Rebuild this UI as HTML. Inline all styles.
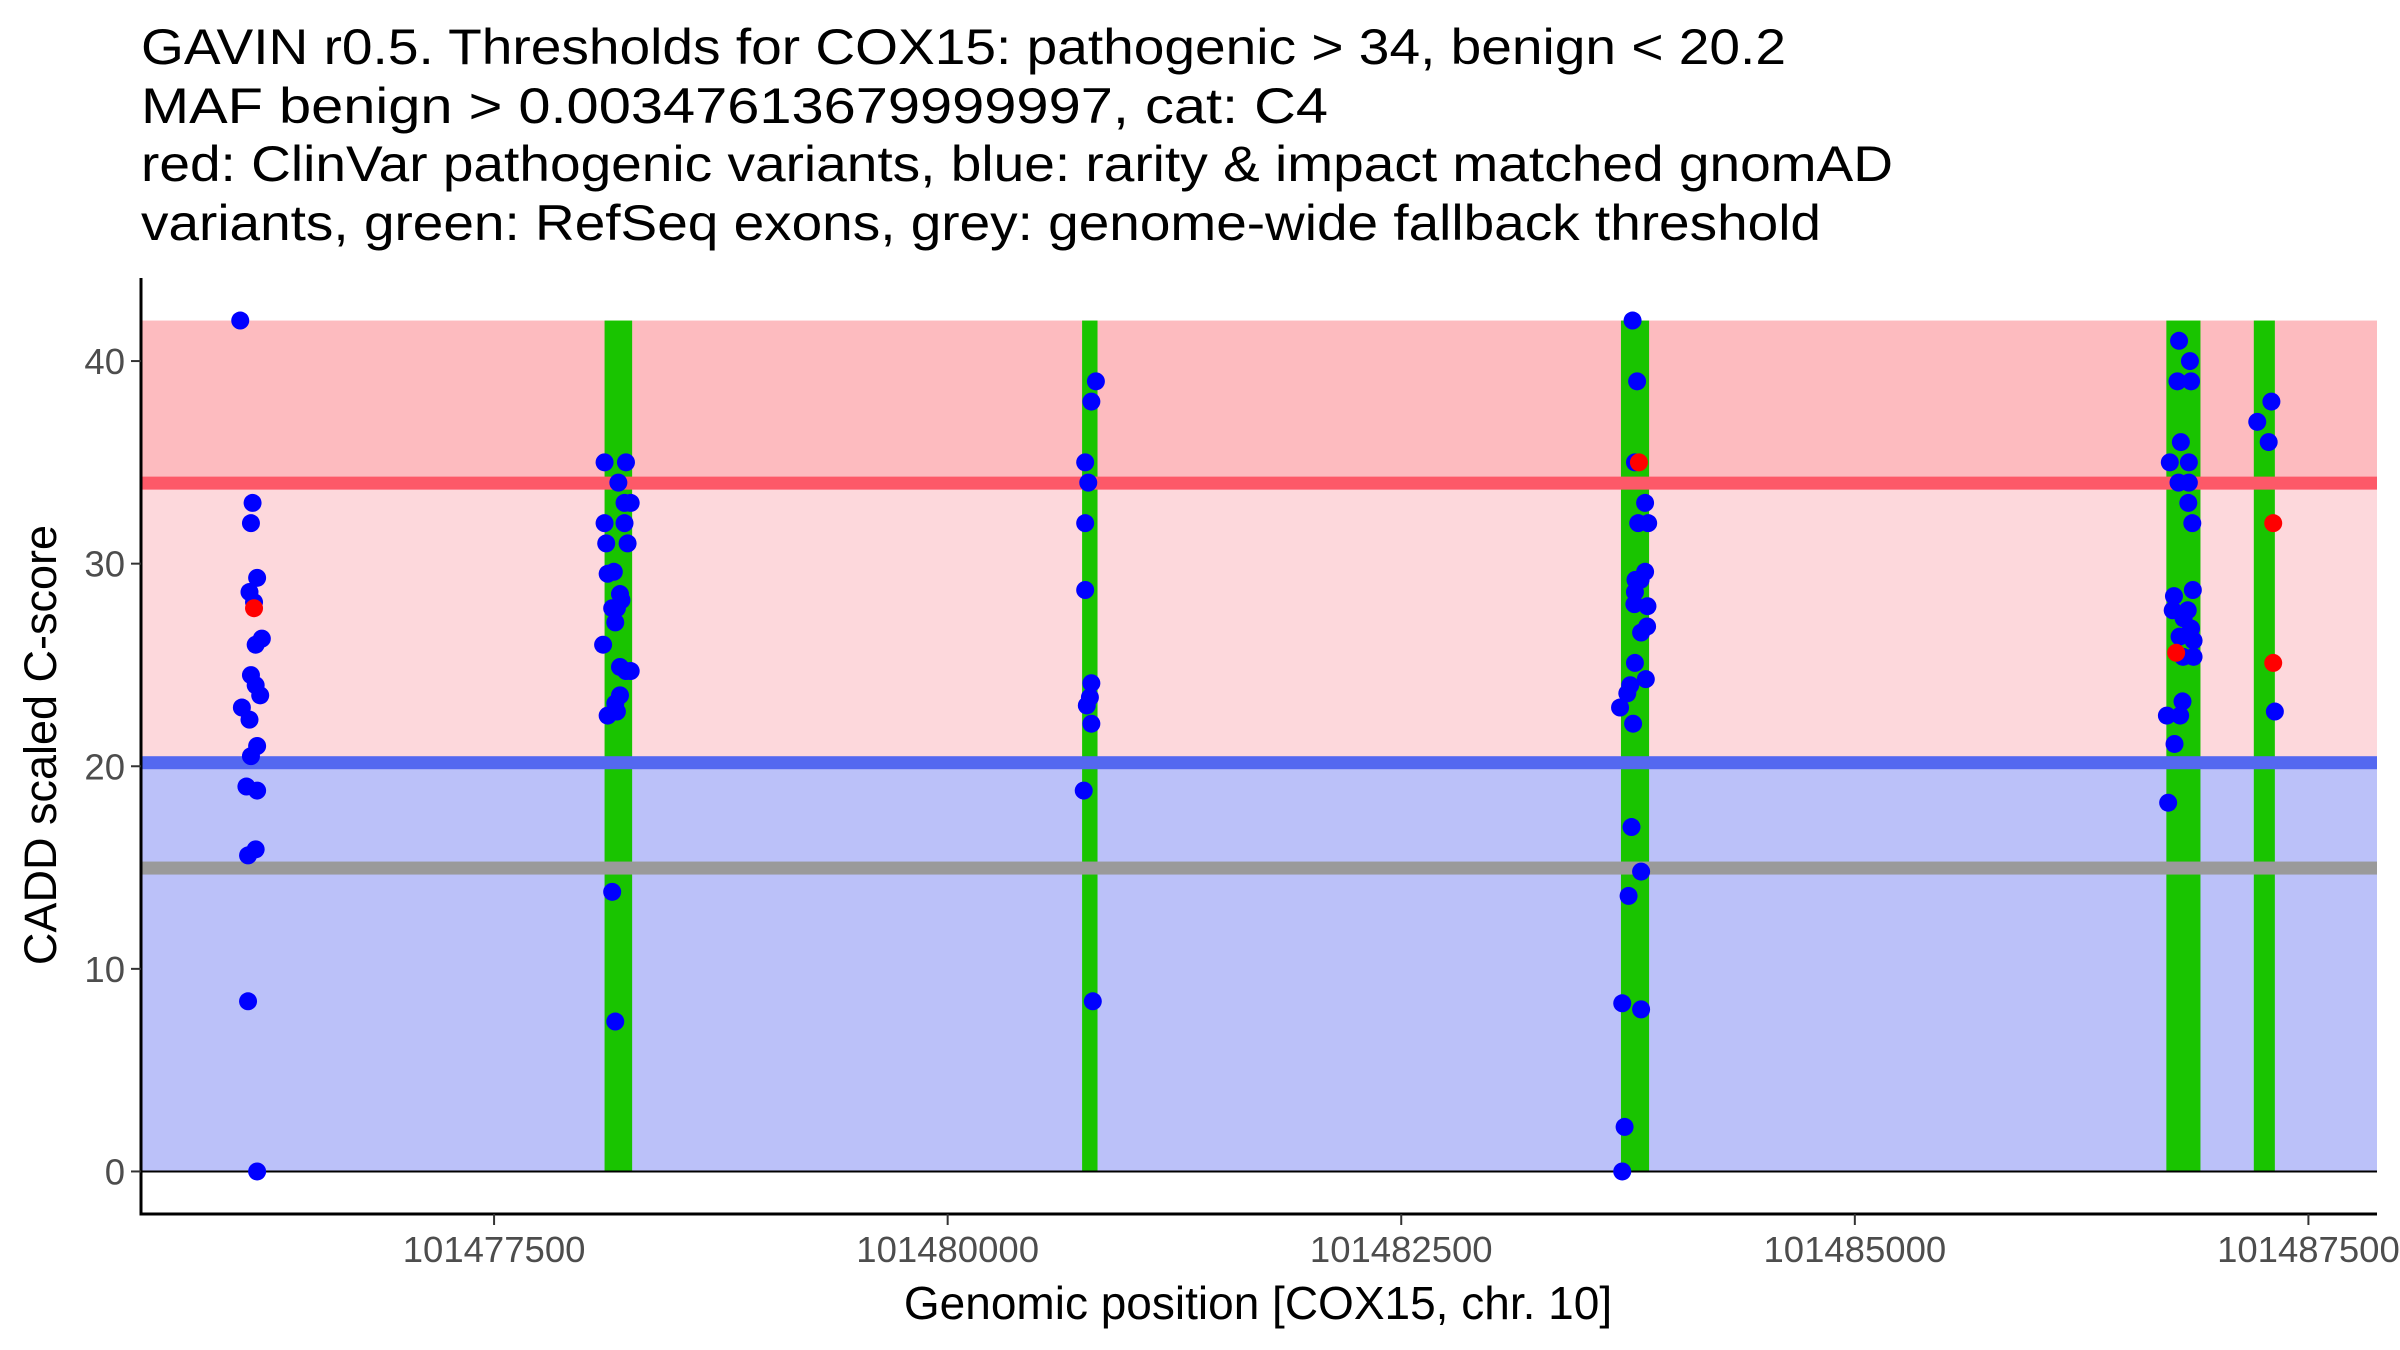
<!DOCTYPE html>
<html><head><meta charset="utf-8"><style>
html,body{margin:0;padding:0;background:#fff;}
svg{display:block;font-family:"Liberation Sans",Arial,sans-serif;}
</style></head><body>
<svg id="chart" width="2400" height="1350" viewBox="0 0 2400 1350" xmlns="http://www.w3.org/2000/svg">
<g font-size="50" fill="#000">
<text x="141" y="64" textLength="1645" lengthAdjust="spacingAndGlyphs">GAVIN r0.5. Thresholds for COX15: pathogenic &gt; 34, benign &lt; 20.2</text>
<text x="141" y="123" textLength="1187" lengthAdjust="spacingAndGlyphs">MAF benign &gt; 0.00347613679999997, cat: C4</text>
<text x="141" y="181" textLength="1752" lengthAdjust="spacingAndGlyphs">red: ClinVar pathogenic variants, blue: rarity &amp; impact matched gnomAD</text>
<text x="141" y="240" textLength="1680" lengthAdjust="spacingAndGlyphs">variants, green: RefSeq exons, grey: genome-wide fallback threshold</text>
</g>
<g id="plot"></g>
</svg>
<script>
// data
const pathoThreshold = 34;
const benignThreshold = 20.2;
const fallbackThreshold = 15;
const scoreMax = 42;
const exonStarts = [101478109, 101480741, 101483711, 101486717, 101487199];
const exonEnds   = [101478261, 101480826, 101483866, 101486905, 101487315];
const xTicks = [101477500, 101480000, 101482500, 101485000, 101487500];
const yTicks = [0, 10, 20, 30, 40];
const bluePos = [
101476101,101476169,101476160,101476194,101476152,101476177,101476220,101476186,101476160,101476186,101476211,101476110,101476152,101476194,101476160,101476135,101476194,101476186,101476144,101476144,101476194,
101478109,101478227,101478185,101478253,101478219,101478109,101478219,101478118,101478236,101478126,101478160,101478194,101478202,101478151,101478177,101478168,101478101,101478194,101478227,101478253,101478194,101478168,101478126,101478177,101478151,101478168,
101480758,101480775,101480817,101480792,101480758,101480758,101480792,101480784,101480767,101480792,101480750,101480800,
101483775,101483800,101483788,101483844,101483806,101483861,101483844,101483791,101483819,101483788,101483857,101483785,101483855,101483822,101483788,101483848,101483762,101483746,101483706,101483778,101483769,101483822,101483753,101483718,101483822,101483731,101483718,
101486787,101486847,101486778,101486853,101486797,101486736,101486841,101486784,101486841,101486838,101486860,101486863,101486759,101486752,101486835,101486812,101486853,101486867,101486790,101486809,101486867,101486806,101486720,101486793,101486762,101486727,
101487218,101487296,101487281,101487315
];
const blueScore = [
42,33,32,29.3,28.6,28.1,26.3,26,24.5,24,23.5,22.9,22.3,21,20.5,19,18.8,15.9,15.6,8.4,0,
35,35,34,33,33,32,32,31,31,29.5,29.6,28.5,28.2,27.8,27.8,27.1,26,24.9,24.7,24.7,23.5,23.1,22.5,22.7,13.8,7.4,
35,34,39,38,32,28.7,24.1,23.4,23,22.1,18.8,8.4,
42,39,35,33,32,32,29.6,29.2,29.2,28.6,27.9,28,26.9,26.6,25.1,24.3,24,23.6,22.9,22.1,17,14.8,13.6,8.3,8.0,2.2,0,
41,40,39,39,36,35,35,34,34,33,32,28.7,28.4,27.7,27.7,27.3,26.8,26.2,26.4,25.4,25.4,23.2,22.5,22.5,21.1,18.2,
37,38,36,22.7
];
const redPos = [101476177, 101483810, 101486771, 101487306, 101487306];
const redScore = [27.8, 35, 25.6, 32, 25.1];

const L=141, R=2377, T=278, B=1214;
const xMin=101475554, xMax=101487878, yMin=-2.1, yMax=44.1;
function xs(v){return L+(v-xMin)/(xMax-xMin)*(R-L);}
function ys(v){return B-(v-yMin)/(yMax-yMin)*(B-T);}
const NS='http://www.w3.org/2000/svg';
const plot=document.getElementById('plot');
function mk(tag,attrs,parent){const e=document.createElementNS(NS,tag);for(const k in attrs)e.setAttribute(k,attrs[k]);(parent||plot).appendChild(e);return e;}

let e;
e=mk('rect',{x:L,y:ys(scoreMax),width:R-L,height:ys(pathoThreshold)-ys(scoreMax),fill:'#fdbbbf'});


e=mk('rect',{x:L,y:ys(pathoThreshold),width:R-L,height:ys(benignThreshold)-ys(pathoThreshold),fill:'#fdd8dc'});


e=mk('rect',{x:L,y:ys(benignThreshold),width:R-L,height:ys(0)-ys(benignThreshold),fill:'#bbc1f9'});


for(let i=0;i<exonStarts.length;i++){
  e=mk('rect',{x:xs(exonStarts[i]),y:ys(scoreMax),width:xs(exonEnds[i])-xs(exonStarts[i]),height:ys(0)-ys(scoreMax),fill:'#19c400'});
  
  
}
e=mk('rect',{x:L,y:ys(pathoThreshold)-6,width:R-L,height:13,fill:'#fd5968'});


e=mk('rect',{x:L,y:ys(benignThreshold)-6,width:R-L,height:13,fill:'#5468f0'});


e=mk('rect',{x:L,y:ys(fallbackThreshold)-6,width:R-L,height:13,fill:'#9a9a9a'});


e=mk('line',{x1:L,x2:R,y1:ys(0),y2:ys(0),stroke:'#000','stroke-width':2});


for(let i=0;i<bluePos.length;i++){
  e=mk('circle',{cx:xs(bluePos[i]),cy:ys(blueScore[i]),r:9,fill:'#0000ff'});
  
  
}
for(let i=0;i<redPos.length;i++){
  e=mk('circle',{cx:xs(redPos[i]),cy:ys(redScore[i]),r:9,fill:'#ff0000'});
  
  
}
e=mk('line',{x1:L,x2:L,y1:T,y2:B+1.5,stroke:'#000','stroke-width':3});


e=mk('line',{x1:L-1.5,x2:R,y1:B,y2:B,stroke:'#000','stroke-width':3});


for(const t of yTicks){
  e=mk('line',{x1:L-10,x2:L,y1:ys(t),y2:ys(t),stroke:'#333','stroke-width':2});
  
  
  e=mk('text',{x:L-16,y:ys(t)+13,'text-anchor':'end','font-size':36.5,fill:'#4d4d4d'});
  e.textContent=t;
  
  
}
for(const t of xTicks){
  e=mk('line',{x1:xs(t),x2:xs(t),y1:B,y2:B+11,stroke:'#333','stroke-width':2});
  
  
  e=mk('text',{x:xs(t),y:1262,'text-anchor':'middle','font-size':36.5,fill:'#4d4d4d'});
  e.textContent=t;
  
  
}
e=mk('text',{x:1258,y:1319,'text-anchor':'middle','font-size':46,fill:'#000'});
e.textContent='Genomic position [COX15, chr. 10]';


e=mk('text',{x:0,y:0,'text-anchor':'middle','font-size':45,fill:'#000',transform:'translate(56,745) rotate(-90)'});
e.textContent='CADD scaled C-score';


</script>
</body></html>
